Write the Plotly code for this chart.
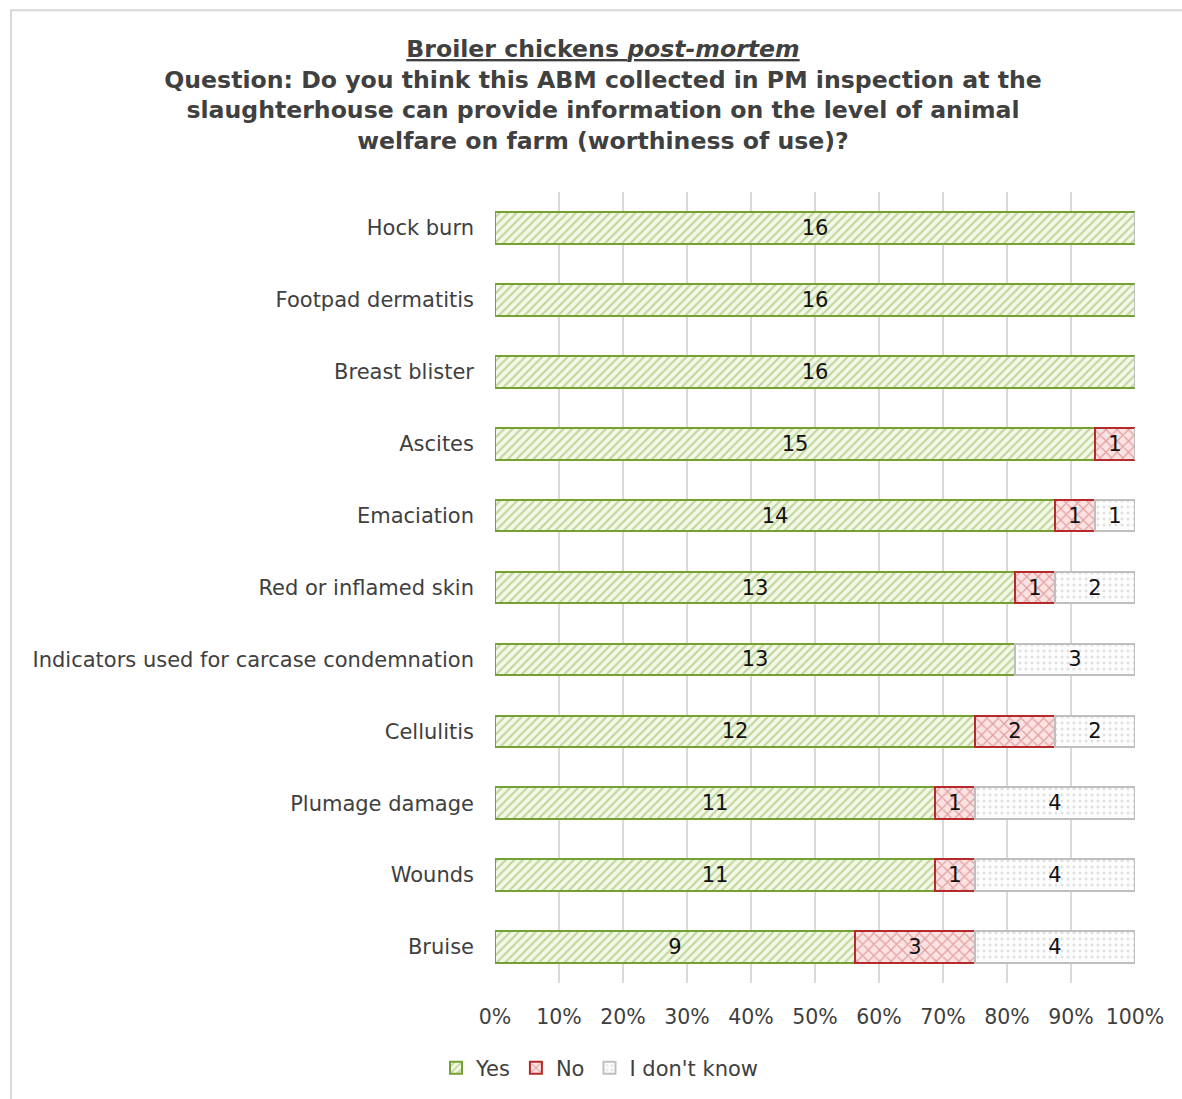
import plotly.graph_objects as go

# Survey answers per animal-based measure (number of respondents)
categories = [
    "Hock burn",
    "Footpad dermatitis",
    "Breast blister",
    "Ascites",
    "Emaciation",
    "Red or inflamed skin",
    "Indicators used for carcase condemnation",
    "Cellulitis",
    "Plumage damage",
    "Wounds",
    "Bruise",
]
yes_counts = [16, 16, 16, 15, 14, 13, 13, 12, 11, 11, 9]
no_counts = [0, 0, 0, 1, 1, 1, 0, 2, 1, 1, 3]
dont_know_counts = [0, 0, 0, 0, 1, 2, 3, 2, 4, 4, 4]
x_tick_values = [0, 10, 20, 30, 40, 50, 60, 70, 80, 90, 100]
x_tick_labels = ["0%", "10%", "20%", "30%", "40%", "50%", "60%", "70%", "80%", "90%", "100%"]

FONT = "DejaVu Sans"

series = [
    ("Yes", yes_counts, dict(shape="/", fgcolor="#8db34d", bgcolor="#f3f8e8", size=6, solidity=0.35), "#77a033"),
    ("No", no_counts, dict(shape="x", fgcolor="#cc5a5a", bgcolor="#fbe3e3", size=8, solidity=0.3), "#b52b2b"),
    ("I don't know", dont_know_counts, dict(shape=".", fgcolor="#c4c4c4", bgcolor="#fdfdfd", size=6, solidity=0.2), "#bfbfbf"),
]

fig = go.Figure()
for name, vals, pattern, line_color in series:
    fig.add_trace(go.Bar(
        name=name,
        y=categories,
        x=vals,
        orientation="h",
        width=0.44,
        marker=dict(pattern=pattern, line=dict(color=line_color, width=2)),
        text=[str(v) if v else "" for v in vals],
        textposition="inside",
        insidetextanchor="middle",
        textangle=0,
        constraintext="none",
        insidetextfont=dict(family=FONT, size=21, color="#111111"),
        hoverinfo="skip",
    ))

# Light frame around the chart area
fig.add_shape(
    type="rect", xref="paper", yref="paper",
    x0=-0.7563, x1=1.08, y0=-0.15, y1=1.2298,
    line=dict(color="#d9d9d9", width=2), fillcolor="rgba(0,0,0,0)", layer="below",
)

fig.update_layout(
    width=1182,
    height=1099,
    barmode="stack",
    barnorm="percent",
    plot_bgcolor="white",
    paper_bgcolor="white",
    margin=dict(l=495, r=47, t=192, b=115),
    uniformtext=dict(minsize=21, mode="show"),
    title=dict(
        text=("<b><u>Broiler chickens <i>post-mortem</i></u></b><br>"
              "<b>Question: Do you think this ABM collected in PM inspection at the</b><br>"
              "<b>slaughterhouse can provide information on the level of animal</b><br>"
              "<b>welfare on farm (worthiness of use)?</b>"),
        x=(603 / 1182), xanchor="center",
        y=1 - 57 / 1099, yanchor="top",
        font=dict(family=FONT, size=23.6, color="#404040"),
    ),
    xaxis=dict(
        range=[0, 100],
        tickvals=x_tick_values,
        ticktext=x_tick_labels,
        showgrid=True,
        gridcolor="#d9d9d9",
        gridwidth=2,
        zeroline=False,
        showline=False,
        ticks="",
        tickfont=dict(family=FONT, size=20.5, color="#404040"),
        ticklabelstandoff=19,
    ),
    yaxis=dict(
        autorange="reversed",
        showgrid=False,
        showline=False,
        ticks="",
        tickfont=dict(family=FONT, size=21, color="#404040"),
        ticklabelstandoff=20,
    ),
    legend=dict(
        orientation="h",
        x=(600 - 495) / 640, xanchor="center",
        y=(984 - 1068) / 792, yanchor="middle",
        font=dict(family=FONT, size=21, color="#404040"),
        traceorder="normal",
        itemwidth=30,
    ),
    showlegend=True,
)

fig.write_html("out.html")
